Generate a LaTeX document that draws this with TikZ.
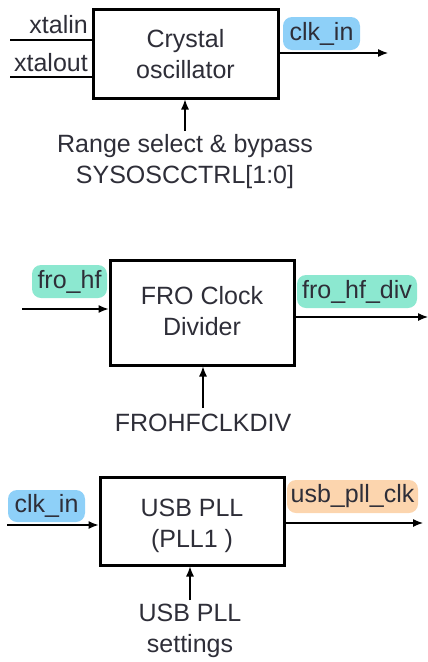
\documentclass[tikz,border=0pt]{standalone}
\usepackage{fontspec}
\setmainfont{Liberation Sans}
\usetikzlibrary{arrows.meta,calc}
\definecolor{txt}{HTML}{2E2E38}
\definecolor{hlblue}{HTML}{8ED0F8}
\definecolor{hlteal}{HTML}{8CE8D0}
\definecolor{hlorange}{HTML}{FCD5AE}
\tikzset{
  blockbox/.style={draw=black,line width=3pt,minimum width=#1,align=center,inner sep=0pt,text=txt},
  sig/.style={line width=1.2pt,-{Latex[length=10pt,width=8pt]}},
  plain/.style={line width=1.2pt},
  hl/.style={fill=#1,rounded corners=9pt,inner sep=0pt,minimum height=33pt,text=txt},
  lbl/.style={text=txt,align=center,inner sep=0pt},
}
\begin{document}
\begin{tikzpicture}[x=1pt,y=-1pt,font=\fontsize{25}{31}\selectfont]
\useasboundingbox (0,0) rectangle (428,662);
% Block 1
\node[blockbox=185pt,minimum height=89pt] (box1) at (185.5,53.5) {};
\node[lbl] (box1t) at (185.5,54) {Crystal\\oscillator};
\node[lbl,anchor=east] (xin) at (88,25) {xtalin};
\node[lbl,anchor=east] (xout) at (88,63) {xtalout};
\coordinate (xa) at (10,40);
\coordinate (xb) at (10,77);
\draw[plain] (xa) -- (xa -| box1.west);
\draw[plain] (xb) -- (xb -| box1.west);
\node[hl=hlblue,minimum width=77pt] (clk1) at (321.5,33.5) {clk\_in};
\coordinate (o1) at (388,53);
\draw[sig] (o1 -| box1.east) -- (o1);
\node[lbl] (rng) at (185,162) {Range select \& bypass\\SYSOSCCTRL[1:0]};
\coordinate (r1) at (185,131);
\draw[sig] (r1) -- (r1 |- box1.south);
% Block 2
\node[blockbox=184pt,minimum height=105pt] (box2) at (202,312.5) {};
\node[lbl] (box2t) at (202,311) {FRO Clock\\Divider};
\node[hl=hlteal,minimum width=75pt] (frohf) at (69.5,281.5) {fro\_hf};
\coordinate (i2) at (22,309);
\draw[sig] (i2) -- (i2 -| box2.west);
\node[hl=hlteal,minimum width=120pt] (frodiv) at (357,291.5) {fro\_hf\_div};
\coordinate (o2) at (428,317);
\draw[sig] (o2 -| box2.east) -- (o2);
\node[lbl] (frodivreg) at (203,423) {FROHFCLKDIV};
\coordinate (r2) at (203,408);
\draw[sig] (r2) -- (r2 |- box2.south);
% Block 3
\node[blockbox=184pt,minimum height=88pt] (box3) at (192,521) {};
\node[lbl] (box3t) at (192,526) {USB PLL\\(PLL1 )};
\node[hl=hlblue,minimum width=77pt,minimum height=32pt] (clk3) at (46.5,506) {clk\_in};
\coordinate (i3) at (7,525);
\draw[sig] (i3) -- (i3 -| box3.west);
\node[hl=hlorange,minimum width=131pt] (usbclk) at (352.5,496.5) {usb\_pll\_clk};
\coordinate (o3) at (423,523);
\draw[sig] (o3 -| box3.east) -- (o3);
\node[lbl] (usbset) at (190,631) {USB PLL\\settings};
\coordinate (r3) at (190,600);
\draw[sig] (r3) -- (r3 |- box3.south);
\end{tikzpicture}
\end{document}
